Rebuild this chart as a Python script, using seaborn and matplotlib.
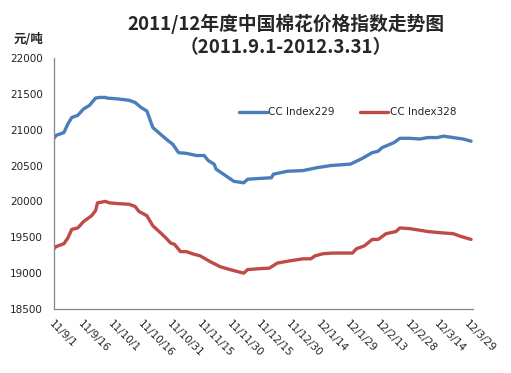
import numpy as np
import pandas as pd
import seaborn as sns
import matplotlib
matplotlib.use('Agg')
from matplotlib import pyplot as plt

# CC Index229
dates_229 = ["2011-09-01", "2011-09-02", "2011-09-06", "2011-09-08", "2011-09-10", "2011-09-13",
             "2011-09-16", "2011-09-19", "2011-09-22", "2011-09-24", "2011-09-27", "2011-09-28",
             "2011-10-03", "2011-10-09", "2011-10-12", "2011-10-15", "2011-10-18", "2011-10-21",
             "2011-10-26", "2011-10-29", "2011-10-31", "2011-11-03", "2011-11-07", "2011-11-12",
             "2011-11-16", "2011-11-18", "2011-11-21", "2011-11-22", "2011-12-01", "2011-12-06",
             "2011-12-08", "2011-12-14", "2011-12-20", "2011-12-21", "2011-12-28", "2012-01-05",
             "2012-01-12", "2012-01-19", "2012-01-29", "2012-02-01", "2012-02-04", "2012-02-09",
             "2012-02-12", "2012-02-14", "2012-02-20", "2012-02-23", "2012-02-28", "2012-03-04",
             "2012-03-08", "2012-03-13", "2012-03-16", "2012-03-21", "2012-03-26", "2012-03-30"]
index_229 = [20880, 20920, 20960, 21080, 21170, 21200, 21290, 21340, 21440, 21450, 21450, 21440,
             21430, 21410, 21380, 21310, 21260, 21030, 20910, 20840, 20800, 20680, 20670, 20640,
             20640, 20570, 20520, 20450, 20280, 20260, 20310, 20320, 20330, 20380, 20420, 20430,
             20470, 20500, 20520, 20560, 20600, 20680, 20700, 20750, 20820, 20880, 20880, 20870,
             20890, 20890, 20910, 20890, 20870, 20840]

# CC Index328
dates_328 = ["2011-09-01", "2011-09-02", "2011-09-06", "2011-09-08", "2011-09-10", "2011-09-13",
             "2011-09-16", "2011-09-20", "2011-09-22", "2011-09-23", "2011-09-27", "2011-09-29",
             "2011-10-03", "2011-10-09", "2011-10-12", "2011-10-14", "2011-10-18", "2011-10-21",
             "2011-10-25", "2011-10-28", "2011-10-30", "2011-11-01", "2011-11-04", "2011-11-07",
             "2011-11-10", "2011-11-14", "2011-11-19", "2011-11-24", "2011-11-29", "2011-12-03",
             "2011-12-06", "2011-12-08", "2011-12-13", "2011-12-19", "2011-12-23", "2011-12-29",
             "2012-01-05", "2012-01-09", "2012-01-11", "2012-01-15", "2012-01-20", "2012-01-30",
             "2012-02-01", "2012-02-05", "2012-02-09", "2012-02-12", "2012-02-16", "2012-02-21",
             "2012-02-23", "2012-02-28", "2012-03-06", "2012-03-08", "2012-03-16", "2012-03-21",
             "2012-03-25", "2012-03-30"]
index_328 = [19340, 19370, 19410, 19490, 19610, 19630, 19720, 19800, 19870, 19980, 20000, 19980,
             19970, 19960, 19930, 19860, 19800, 19660, 19560, 19480, 19420, 19400, 19300, 19300,
             19270, 19240, 19160, 19090, 19050, 19020, 19000, 19050, 19060, 19070, 19140, 19170,
             19200, 19200, 19240, 19270, 19280, 19280, 19340, 19380, 19470, 19470, 19550, 19580,
             19630, 19620, 19590, 19580, 19560, 19550, 19510, 19470]

tick_labels = ["11/9/1", "11/9/16", "11/10/1", "11/10/16", "11/10/31", "11/11/15", "11/11/30",
               "11/12/15", "11/12/30", "12/1/14", "12/1/29", "12/2/13", "12/2/28", "12/3/14",
               "12/3/29"]

df = pd.concat([
    pd.DataFrame({"date": pd.to_datetime(dates_229), "price": index_229, "series": "CC Index229"}),
    pd.DataFrame({"date": pd.to_datetime(dates_328), "price": index_328, "series": "CC Index328"}),
])

sns.set_style("white")
plt.rcParams['font.family'] = ['DejaVu Sans', 'Noto Sans CJK SC']
cjk = ['Noto Sans CJK SC', 'DejaVu Sans']

fig = plt.figure(figsize=(5.11, 3.73), dpi=100)
ax = fig.add_axes([0.1057, 0.1716, 0.82, 0.673])

sns.lineplot(data=df, x="date", y="price", hue="series",
             palette={"CC Index229": "#4A7EBB", "CC Index328": "#BE4B48"},
             linewidth=2.4, ax=ax)

ax.set_xlim(pd.Timestamp("2011-09-01"), pd.Timestamp("2012-03-31"))
ax.set_ylim(18500, 22000)
ax.set_yticks(np.arange(18500, 22001, 500))
ax.set_xticks(pd.date_range("2011-09-01", periods=len(tick_labels), freq="15D"))
ax.set_xticklabels(tick_labels, rotation=-45, ha="left", va="top", rotation_mode="anchor",
                   fontsize=7.5, color="#222222")
ax.tick_params(axis="y", labelsize=7.5, pad=8, labelcolor="#222222")
ax.tick_params(axis="both", direction="in", length=4, color="#868686", width=0.8)
ax.tick_params(axis="x", pad=7)
ax.set_xlabel("")
ax.set_ylabel("")
for s in ["top", "right"]:
    ax.spines[s].set_visible(False)
for s in ["left", "bottom"]:
    ax.spines[s].set_color("#868686")
    ax.spines[s].set_linewidth(0.9)

ax.legend(loc="center", bbox_to_anchor=(0.70, 0.784), ncol=2, frameon=False,
          fontsize=7.5, handlelength=2.7, handletextpad=0.1, columnspacing=2.5)

fig.text(0.56, 0.937, "2011/12年度中国棉花价格指数走势图", ha="center", va="center",
         fontsize=13.5, fontweight="bold", family=cjk)
fig.text(0.56, 0.872, "（2011.9.1-2012.3.31）", ha="center", va="center",
         fontsize=13.5, fontweight="bold", family=cjk)
fig.text(0.055, 0.895, "元/吨", ha="center", va="center", fontsize=9,
         fontweight="bold", family=cjk)

fig.savefig("out.png", dpi=100)
